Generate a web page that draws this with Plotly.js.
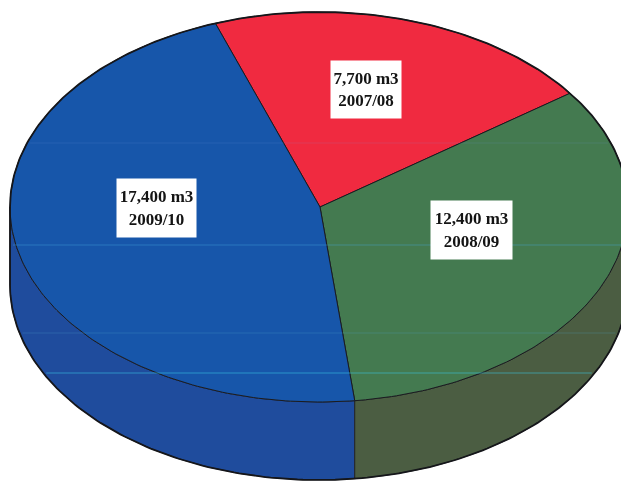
<!DOCTYPE html>
<html>
<head>
<meta charset="utf-8">
<script src="https://cdn.plot.ly/plotly-3.0.1.min.js"></script>
<style>html,body{margin:0;padding:0;background:#fff;overflow:hidden}#chart{filter:blur(0.45px)}</style>
</head>
<body>
<div id="chart" style="width:621px;height:481px"></div>
<script>
// Data
const seasons = ["2007/08", "2008/09", "2009/10"];
const volumes = [7700, 12400, 17400];
const volumeLabels = ["7,700 m3", "12,400 m3", "17,400 m3"];

// Drawing geometry (pie tilted into an ellipse, in axis units)
const cx = 319, cy = 207, rx = 309, ry = 195, depth = 78;
const pivotX = 320;
const startAngle = -19.6;         // degrees clockwise from top
const faceColors = ["#f02a40", "#447a50", "#1756aa"];
const wallGreen = "#4b5d42", wallBlue = "#1f4c9d";
const labelCentres = [[366, 89.5], [471, 230], [156.5, 208]];
const boxSizes = [[70, 57], [81, 58], [79, 58]];

const rad = d => d * Math.PI / 180;
const px = a => cx + rx * Math.sin(rad(a));
const py = (a, dy) => cy + (dy || 0) - ry * Math.cos(rad(a));

function arc(a0, a1, dy) {
  const xs = [], ys = [], n = Math.max(2, Math.ceil(Math.abs(a1 - a0)));
  for (let i = 0; i <= n; i++) {
    const a = a0 + (a1 - a0) * i / n;
    xs.push(px(a)); ys.push(py(a, dy));
  }
  return [xs, ys];
}

function poly(xs, ys, fill, width, name) {
  return {type: "scatter", mode: "lines", x: xs, y: ys, fill: "toself", fillcolor: fill,
    line: {color: "#1a1b20", width: width}, hoverinfo: "skip", showlegend: false, name: name};
}

const total = volumes.reduce((s, v) => s + v, 0);
const bounds = [startAngle];
volumes.forEach(v => bounds.push(bounds[bounds.length - 1] + v / total * 360));

const traces = [];

// Side walls
const split = bounds[2];
function wall(a0, a1, fill) {
  const top = arc(a0, a1, 0), bot = arc(a1, a0, depth);
  return poly(top[0].concat(bot[0], [top[0][0]]), top[1].concat(bot[1], [top[1][0]]), fill, 0.8, "wall");
}
traces.push(wall(split, 270, wallBlue));
traces.push(wall(90, split, wallGreen));

// Top face slices
volumes.forEach((v, i) => {
  const a = arc(bounds[i], bounds[i + 1], 0);
  traces.push(poly([pivotX].concat(a[0], [pivotX]), [cy].concat(a[1], [cy]), faceColors[i], 1.0, seasons[i]));
});

// Faint scanner streaks across the whole silhouette
function silhouetteHalf(y) {
  if (y <= cy) return rx * Math.sqrt(Math.max(0, 1 - Math.pow((y - cy) / ry, 2)));
  if (y <= cy + depth) return rx;
  return rx * Math.sqrt(Math.max(0, 1 - Math.pow((y - cy - depth) / ry, 2)));
}
[[245, "rgba(70,170,220,0.4)"], [373, "rgba(60,200,230,0.55)"], [333, "rgba(80,170,210,0.25)"], [143, "rgba(120,170,230,0.15)"]]
  .forEach(s => {
    const half = silhouetteHalf(s[0]);
    traces.push({type: "scatter", mode: "lines", x: [cx - half + 3, cx + half - 3], y: [s[0], s[0]],
      line: {color: s[1], width: 1}, hoverinfo: "skip", showlegend: false});
  });

// Heavy outer outline
const outlineTop = arc(-90, 90, 0), outlineBot = arc(90, 270, depth);
traces.push({type: "scatter", mode: "lines",
  x: outlineTop[0].concat(outlineBot[0], [outlineTop[0][0]]),
  y: outlineTop[1].concat(outlineBot[1], [outlineTop[1][0]]),
  line: {color: "#15161a", width: 1.8}, hoverinfo: "skip", showlegend: false});

const annotations = volumes.map((v, i) => ({
  x: labelCentres[i][0], y: labelCentres[i][1], xref: "x", yref: "y",
  text: volumeLabels[i] + "<br>" + seasons[i],
  showarrow: false, bgcolor: "#ffffff", borderpad: 0,
  width: boxSizes[i][0], height: boxSizes[i][1], align: "center", valign: "middle",
  font: {family: "Liberation Serif, serif", size: 17, color: "#141414", weight: 700}
}));

const hidden = {visible: false, fixedrange: true};
Plotly.newPlot("chart", traces, {
  width: 621, height: 481,
  margin: {l: 0, r: 0, t: 0, b: 0},
  paper_bgcolor: "#ffffff", plot_bgcolor: "#ffffff",
  showlegend: false,
  xaxis: Object.assign({range: [0, 621]}, hidden),
  yaxis: Object.assign({range: [481, 0]}, hidden),
  annotations: annotations
}, {staticPlot: true, displayModeBar: false});
</script>
</body>
</html>
